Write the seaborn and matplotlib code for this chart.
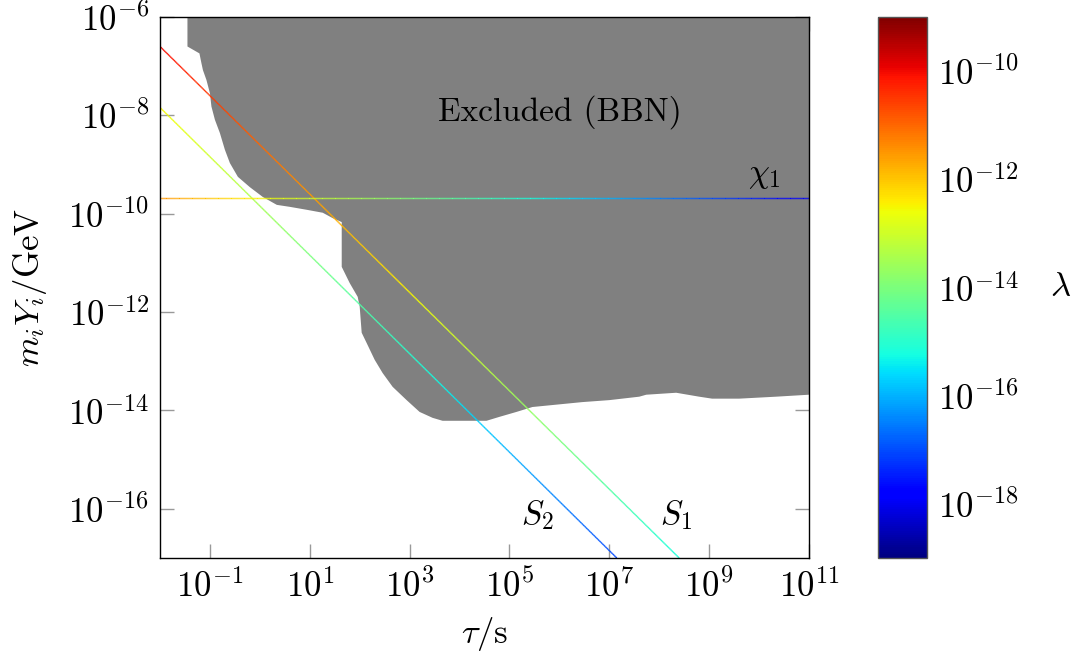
import numpy as np
import matplotlib
matplotlib.use("Agg")
import matplotlib.pyplot as plt
import seaborn as sns
from matplotlib.collections import LineCollection
from matplotlib.colors import LogNorm
from matplotlib.ticker import FixedLocator, LogFormatterMathtext, NullLocator

# BBN excluded region: upper edge is the top of the frame, lower edge traced here
# (log10 of lifetime in s, log10 of m_i Y_i in GeV)
bbn_log_tau = [-1.45, -1.45, -1.21, -1.17, -1.14, -1.07, -1.00, -0.97, -0.90, -0.80,
               -0.70, -0.60, -0.44, -0.20, 0.06, 0.34, 0.60, 0.94, 1.26, 1.46,
               1.64, 1.64, 1.80, 1.96, 2.00, 2.04, 2.14, 2.30, 2.46, 2.66,
               2.94, 3.20, 3.46, 3.66, 4.54, 4.80, 5.14, 5.46, 5.86, 6.46,
               7.00, 7.60, 7.74, 8.34, 8.80, 9.06, 9.60, 10.34, 11.00]
bbn_log_y = [-6.00, -6.60, -6.74, -6.94, -7.08, -7.28, -7.55, -7.82, -8.09, -8.36,
             -8.70, -8.97, -9.25, -9.46, -9.66, -9.82, -9.86, -9.92, -9.98, -10.09,
             -10.17, -11.08, -11.41, -11.69, -11.89, -12.42, -12.63, -12.97, -13.24, -13.52,
             -13.79, -14.03, -14.15, -14.21, -14.21, -14.13, -14.03, -13.93, -13.89, -13.83,
             -13.79, -13.72, -13.68, -13.64, -13.72, -13.76, -13.76, -13.72, -13.68]

# Relic abundance tracks, each a straight segment in log-log space with coupling lambda
track_names = ["S1", "S2", "chi1"]
track_labels = [r"$S_1$", r"$S_2$", r"$\chi_1$"]
tau_start = [1e-2, 1e-2, 1e-2]
tau_end = [10**8.4, 10**7.15, 1e11]
y_start = [10**-6.6, 10**-7.84, 10**-9.685]
y_end = [1e-17, 1e-17, 10**-9.685]
lam_start = [1e-10, 10**-12.5, 10**-11.5]
lam_end = [10**-15.2, 10**-17.075, 1e-18]
label_tau = [10**8.34, 10**5.56, 10**10.1]
label_y = [10**-16.12, 10**-16.12, 10**-9.25]

sns.set_theme(style="ticks")
plt.rcParams.update({
    "font.family": "serif",
    "font.serif": ["cmr10", "DejaVu Serif"],
    "mathtext.fontset": "cm",
    "axes.formatter.use_mathtext": True,
    "axes.unicode_minus": True,
    "font.size": 24,
    "text.color": "black",
    "axes.labelcolor": "black",
    "xtick.labelcolor": "black",
    "ytick.labelcolor": "black",
})

FS_TEXT = 24
FS_TICK = 25

cmap = matplotlib.colormaps["jet"]
norm = LogNorm(vmin=1e-19, vmax=1e-9)

fig = plt.figure(figsize=(10.72, 6.55), dpi=100)
ax = fig.add_axes([160 / 1072, 1 - 558 / 655, 649 / 1072, 541 / 655])
cax = fig.add_axes([878 / 1072, 1 - 558 / 655, 49 / 1072, 541 / 655])

ax.set_xscale("log")
ax.set_yscale("log")
ax.set_xlim(1e-2, 1e11)
ax.set_ylim(1e-17, 1e-6)

# excluded region
poly_x = list(10.0 ** np.array(bbn_log_tau)) + [1e11, 10**bbn_log_tau[0]]
poly_y = list(10.0 ** np.array(bbn_log_y)) + [1e-6, 1e-6]
ax.fill(poly_x, poly_y, color="#808080", lw=0, zorder=1)

# colour-graded tracks
for t0, t1, y0, y1, l0, l1 in zip(tau_start, tau_end, y_start, y_end, lam_start, lam_end):
    s = np.linspace(0, 1, 600)
    lx = np.log10(t0) + s * (np.log10(t1) - np.log10(t0))
    ly = np.log10(y0) + s * (np.log10(y1) - np.log10(y0))
    ll = np.log10(l0) + s * (np.log10(l1) - np.log10(l0))
    pts = np.column_stack([10**lx, 10**ly]).reshape(-1, 1, 2)
    segs = np.concatenate([pts[:-1], pts[1:]], axis=1)
    lc = LineCollection(segs, cmap=cmap, norm=norm, linewidths=1.0, zorder=3)
    lc.set_array(10 ** (0.5 * (ll[:-1] + ll[1:])))
    ax.add_collection(lc)

for lab, tx, ty in zip(track_labels, label_tau, label_y):
    ax.text(tx, ty, lab, ha="center", va="center", fontsize=FS_TEXT, color="black", zorder=4)

ax.text(1e6, 10**-7.93, "Excluded (BBN)", ha="center", va="center",
        fontsize=FS_TEXT, color="black", zorder=4)

# ticks
ax.xaxis.set_major_locator(FixedLocator([10.0**k for k in range(-1, 12, 2)]))
ax.yaxis.set_major_locator(FixedLocator([10.0**k for k in range(-16, -5, 2)]))
ax.xaxis.set_minor_locator(NullLocator())
ax.yaxis.set_minor_locator(NullLocator())
ax.xaxis.set_major_formatter(LogFormatterMathtext())
ax.yaxis.set_major_formatter(LogFormatterMathtext())
ax.tick_params(which="major", direction="in", length=10, width=1.0, color="#999999",
               labelcolor="black", top=True, right=True, labelsize=FS_TICK, pad=8)
for sp in ax.spines.values():
    sp.set_color("black")
    sp.set_linewidth(1.0)
    sp.set_zorder(5)

ax.set_xlabel(r"$\tau/\mathrm{s}$", fontsize=FS_TICK, labelpad=8, color="black")
ax.set_ylabel(r"$m_iY_i/\mathrm{GeV}$", fontsize=FS_TICK, labelpad=14, color="black")

# colour bar
sm = plt.cm.ScalarMappable(norm=norm, cmap=cmap)
cb = fig.colorbar(sm, cax=cax)
cb.set_ticks([1e-10, 1e-12, 1e-14, 1e-16, 1e-18])
cax.yaxis.set_minor_locator(NullLocator())
cax.yaxis.set_major_formatter(LogFormatterMathtext())
cax.tick_params(which="major", direction="in", length=10, width=1.0, color="#999999",
                labelcolor="black", left=True, right=True, labelleft=False,
                labelright=True, labelsize=FS_TICK, pad=8)
cb.outline.set_edgecolor("#555555")
cb.outline.set_linewidth(1.0)
cax.set_ylabel(r"$\lambda$", rotation=0, fontsize=FS_TICK, labelpad=30, va="center",
               color="black")

fig.savefig("out.png", dpi=100)
